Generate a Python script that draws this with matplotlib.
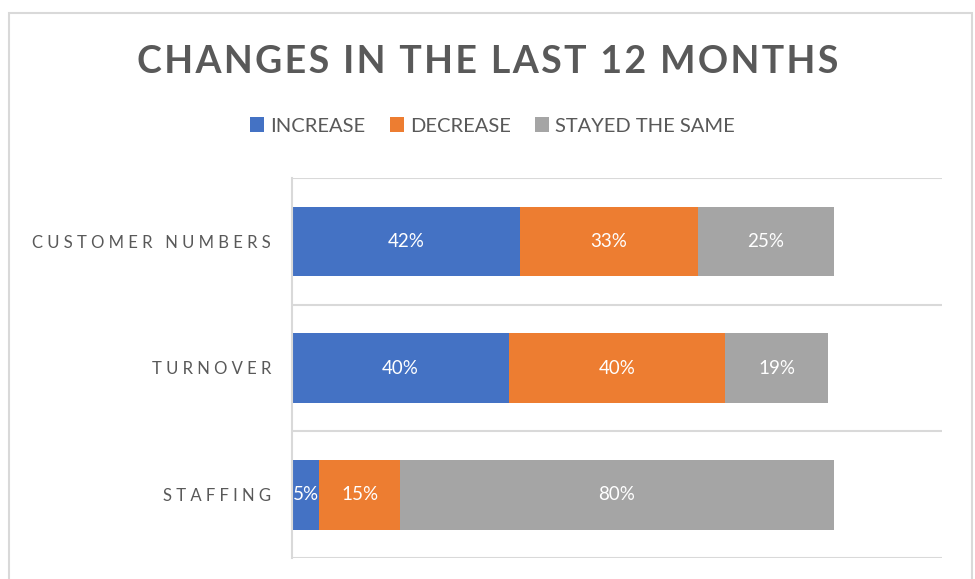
import matplotlib.pyplot as plt
import matplotlib.patches as patches
import numpy as np

# data
categories = ['CUSTOMER NUMBERS', 'TURNOVER', 'STAFFING']
increase = [42, 40, 5]
decrease = [33, 40, 15]
same = [25, 19, 80]
series_names = ['INCREASE', 'DECREASE', 'STAYED THE SAME']
colors = ['#4472C4', '#ED7D31', '#A5A5A5']

plt.rcParams['font.family'] = ['Lato', 'DejaVu Sans']

def spaced(s, gap='\u200a'):
    # fake letter spacing with hair spaces
    return gap.join(list(s))

fig = plt.figure(figsize=(9.75, 5.79), dpi=100)
ax = fig.add_axes([292/975, 1-558/579, (942-292)/975, (558-178)/579])

y = np.arange(len(categories))
left = np.zeros(len(categories))
for vals, name, col in zip([increase, decrease, same], series_names, colors):
    vals = np.array(vals)
    bars = ax.barh(y, vals, left=left, height=0.55, color=col, label=name)
    for b, v in zip(bars, vals):
        ax.text(b.get_x() + b.get_width()/2, b.get_y() + b.get_height()/2, f'{v}%',
                ha='center', va='center', color='white', fontsize=13.5)
    left += vals

ax.set_xlim(0, 120)
ax.set_ylim(2.5, -0.5)
ax.set_yticks(y)
ax.set_yticklabels([spaced(c, '\u2009\u2009') for c in categories], fontsize=12, color='#595959')
ax.tick_params(axis='y', which='both', length=0, pad=15)
ax.set_xticks([])
ax.set_yticks([-0.5, 0.5, 1.5, 2.5], minor=True)
ax.grid(axis='y', which='minor', color='#d9d9d9', linewidth=1.5)
ax.set_axisbelow(True)
for s in ['right', 'bottom', 'top']:
    ax.spines[s].set_visible(False)
ax.spines['left'].set_color('#d9d9d9')
ax.spines['left'].set_linewidth(1.5)

fig.text(0.5, 1-62/579, spaced('CHANGES IN THE LAST 12 MONTHS', '\u200a'), ha='center', va='center',
         fontsize=27, fontweight='bold', color='#595959')

fig.legend(loc='center', bbox_to_anchor=(0.505, 1-126/579), ncol=3, frameon=False,
           fontsize=14.5, handlelength=0.7, handleheight=0.7, handletextpad=0.3,
           columnspacing=1.2, labelcolor='#595959')

# outer chart border
fig.patches.append(patches.Rectangle((9/975, -0.05), 963/975, 1.05-13/579, transform=fig.transFigure,
                                     fill=False, edgecolor='#d9d9d9', linewidth=1.5))

plt.savefig('out.png', dpi=100)
